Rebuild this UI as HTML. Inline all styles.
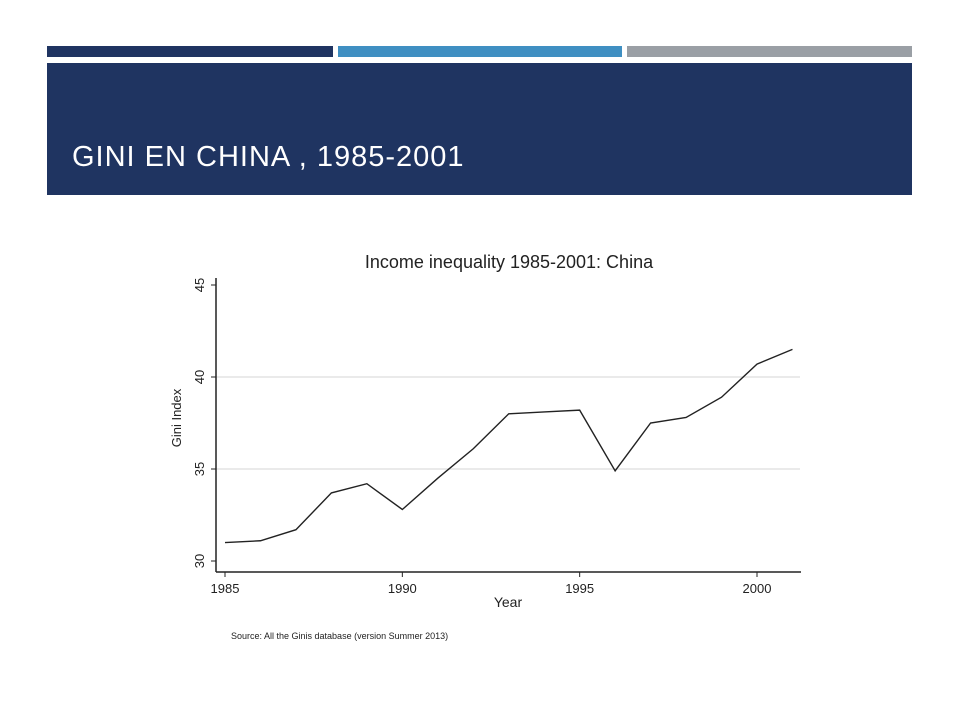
<!DOCTYPE html>
<html><head><meta charset="utf-8"><style>
body{margin:0;width:960px;height:720px;background:#fff;position:relative;overflow:hidden;font-family:"Liberation Sans",sans-serif}
.bar{position:absolute;top:46px;height:11px}
</style></head><body>
<div class="bar" style="left:47px;width:286px;background:#1f3461"></div>
<div class="bar" style="left:338px;width:284px;background:#3f8fc2"></div>
<div class="bar" style="left:627px;width:285px;background:#9a9fa5"></div>
<div style="position:absolute;left:47px;top:63px;width:865px;height:132px;background:#1f3461">
<div style="position:absolute;left:25px;top:78px;color:#fff;font-size:29px;letter-spacing:1px">GINI EN CHINA , 1985-2001</div>
</div>
<svg id="chart" width="960" height="720" style="position:absolute;left:0;top:0" font-family="Liberation Sans, sans-serif"></svg>
<script>
const years=[1985,1986,1987,1988,1989,1990,1991,1992,1993,1994,1995,1996,1997,1998,1999,2000,2001];
const gini=[31.0,31.1,31.7,33.7,34.2,32.8,34.5,36.1,38.0,38.1,38.2,34.9,37.5,37.8,38.9,40.7,41.5];
const xTicks=[1985,1990,1995,2000];
const yTicks=[30,35,40,45];
const svg=document.getElementById('chart');const NS='http://www.w3.org/2000/svg';
const X=v=>225+(v-1985)*(757-225)/15;
const Y=v=>561-(v-30)*(561-285)/15;
function mk(t,a,txt){const e=document.createElementNS(NS,t);for(const k in a)e.setAttribute(k,a[k]);if(txt!=null)e.textContent=txt;svg.appendChild(e);return e;}
yTicks.forEach(t=>{if(t>30&&t<45){const g=mk('line',{x1:216,x2:800,y1:Y(t),y2:Y(t),stroke:'#e4e4e4','stroke-width':1.5});

}
const tk=mk('line',{x1:211,x2:216,y1:Y(t),y2:Y(t),stroke:'#222'});


const l=mk('text',{x:0,y:0,transform:`translate(204,${Y(t)}) rotate(-90)`,'text-anchor':'middle','font-size':13,fill:'#222'},t);

});
xTicks.forEach(t=>{const tk=mk('line',{x1:X(t),x2:X(t),y1:572,y2:577,stroke:'#222'});


const l=mk('text',{x:X(t),y:593,'text-anchor':'middle','font-size':13,fill:'#222'},t);

});
const ya=mk('line',{x1:216,x2:216,y1:278,y2:572,stroke:'#222','stroke-width':1.5});


const xa=mk('line',{x1:216,x2:801,y1:572,y2:572,stroke:'#222','stroke-width':1.5});


const ln=mk('polyline',{points:years.map((y,i)=>X(y)+','+Y(gini[i])).join(' '),fill:'none',stroke:'#222','stroke-width':1.4});


const tt=mk('text',{x:509,y:268,'text-anchor':'middle','font-size':18,fill:'#222'},'Income inequality 1985-2001: China');


const xt=mk('text',{x:508,y:607,'text-anchor':'middle','font-size':14,fill:'#222'},'Year');


const yt=mk('text',{x:0,y:0,transform:'translate(181,418) rotate(-90)','text-anchor':'middle','font-size':13,fill:'#222'},'Gini Index');


const src=mk('text',{x:231,y:639,'font-size':9,fill:'#222'},'Source:  All the Ginis database (version Summer 2013)');


</script>
</body></html>
